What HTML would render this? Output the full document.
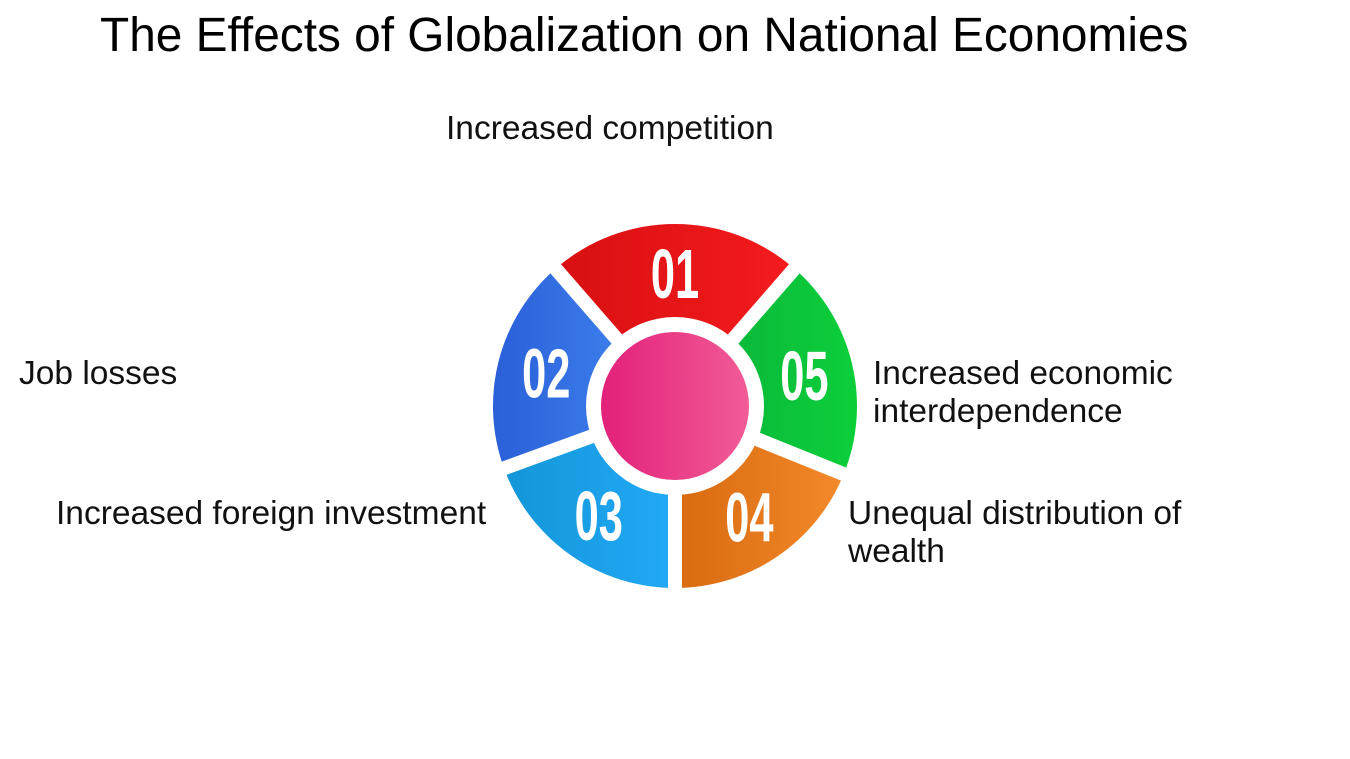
<!DOCTYPE html>
<html><head><meta charset="utf-8"><style>
html,body{margin:0;padding:0;background:#fff;}
body{width:1350px;height:759px;position:relative;overflow:hidden;font-family:"Liberation Sans",sans-serif;}
.t{position:absolute;color:#111;font-size:33.5px;line-height:38px;white-space:nowrap;}
</style></head><body>
<div style="position:absolute;left:100px;top:8px;font-size:47.8px;color:#000;white-space:nowrap;">The Effects of Globalization on National Economies</div>
<div class="t" style="left:446px;top:110px;">Increased competition</div>
<div class="t" style="left:19px;top:355px;">Job losses</div>
<div class="t" style="left:56px;top:495px;">Increased foreign investment</div>
<div class="t" style="left:873px;top:355px;">Increased economic<br>interdependence</div>
<div class="t" style="left:848px;top:495px;">Unequal distribution of<br>wealth</div>
<svg id="wheel" width="1350" height="759" style="position:absolute;left:0;top:0">
<defs>
<linearGradient id="g0" x1="0" x2="1"><stop offset="0" stop-color="#d80f12"/><stop offset="1" stop-color="#f41b1d"/></linearGradient>
<linearGradient id="g1" x1="0" x2="1"><stop offset="0" stop-color="#2a5fd8"/><stop offset="1" stop-color="#3c7eec"/></linearGradient>
<linearGradient id="g2" x1="0" x2="1"><stop offset="0" stop-color="#1396d8"/><stop offset="1" stop-color="#22a9f6"/></linearGradient>
<linearGradient id="g3" x1="0" x2="1"><stop offset="0" stop-color="#d86a10"/><stop offset="1" stop-color="#f2892a"/></linearGradient>
<linearGradient id="g4" x1="0" x2="1"><stop offset="0" stop-color="#0bb83a"/><stop offset="1" stop-color="#0ccf3a"/></linearGradient>
<linearGradient id="gc" x1="0" x2="1"><stop offset="0" stop-color="#e2207a"/><stop offset="1" stop-color="#f25c96"/></linearGradient>
</defs>
</svg>
<script>
const numbers=["01","02","03","04","05"];
const startAngles=[49,131,200,270,338];
const endAngles=[131,200,270,338,409];
const cx=675,cy=406,R=182,r0=80;
const svg=document.getElementById('wheel');
const NS='http://www.w3.org/2000/svg';
function pt(a,rr){const t=a*Math.PI/180;return [cx+rr*Math.cos(t),cy-rr*Math.sin(t)];}
numbers.forEach((n,i)=>{
  const a0=startAngles[i],a1=endAngles[i];
  const p1=pt(a0,R),p2=pt(a1,R),p3=pt(a1,r0),p4=pt(a0,r0);
  const large=(a1-a0)>180?1:0;
  const p=document.createElementNS(NS,'path');
  p.setAttribute('d',`M${p1}A${R},${R} 0 ${large} 0 ${p2}L${p3}A${r0},${r0} 0 ${large} 1 ${p4}Z`);
  p.setAttribute('fill',`url(#g${i})`);
  
  
  svg.appendChild(p);
});
startAngles.forEach((a,i)=>{
  const q=pt(a,R+5);
  const l=document.createElementNS(NS,'line');
  l.setAttribute('x1',cx);l.setAttribute('y1',cy);l.setAttribute('x2',q[0]);l.setAttribute('y2',q[1]);
  l.setAttribute('stroke','#fff');l.setAttribute('stroke-width','14');
  
  
  svg.appendChild(l);
});
const wc=document.createElementNS(NS,'circle');
wc.setAttribute('cx',cx);wc.setAttribute('cy',cy);wc.setAttribute('r',89);wc.setAttribute('fill','#fff');


svg.appendChild(wc);
const c=document.createElementNS(NS,'circle');
c.setAttribute('cx',cx);c.setAttribute('cy',cy);c.setAttribute('r',74);c.setAttribute('fill','url(#gc)');


svg.appendChild(c);
numbers.forEach((n,i)=>{
  const mid=(startAngles[i]+endAngles[i])/2;
  const q=pt(mid,133);
  const tx=document.createElementNS(NS,'text');
  tx.setAttribute('x',0);tx.setAttribute('y',0);
  tx.setAttribute('transform',`translate(${q[0]},${q[1]+25}) scale(0.62,1)`);
  tx.setAttribute('text-anchor','middle');
  tx.setAttribute('fill','#fff');
  tx.setAttribute('font-family','"Liberation Sans Narrow","Liberation Sans",sans-serif');
  tx.setAttribute('font-weight','bold');
  tx.setAttribute('font-size','70');
  tx.textContent=n;
  
  
  svg.appendChild(tx);
});
</script>
</body></html>
